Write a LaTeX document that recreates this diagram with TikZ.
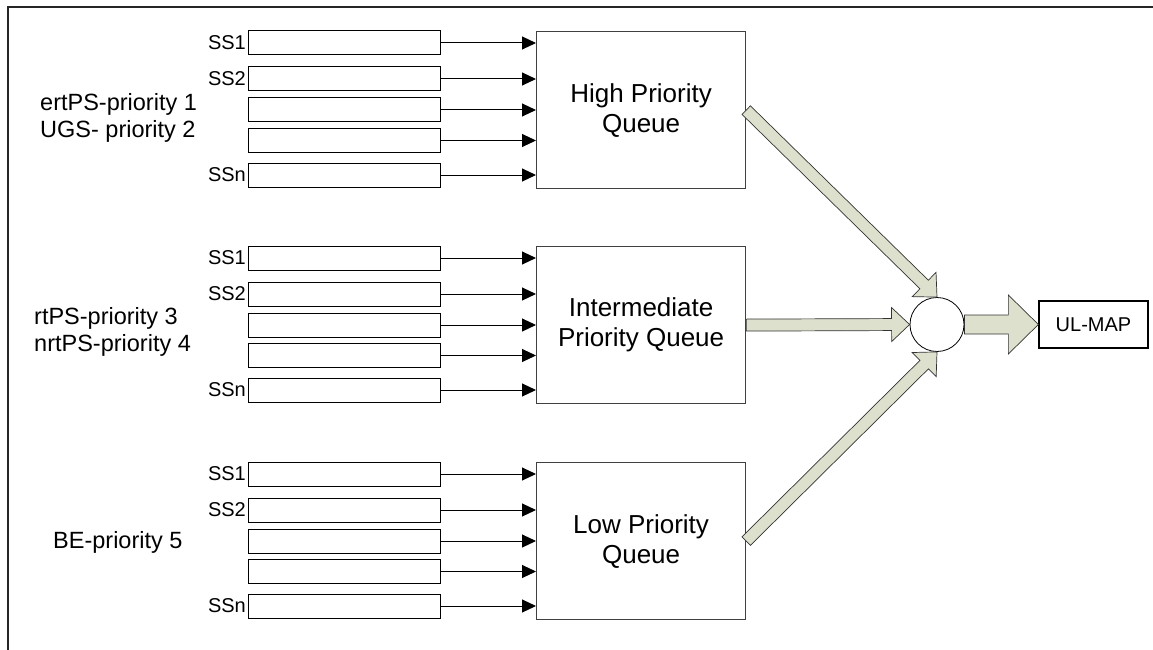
\documentclass[tikz,border=0pt]{standalone}
\usepackage{fontspec}
\setmainfont{Liberation Sans}
\usetikzlibrary{arrows.meta,calc}
\definecolor{arrowfill}{RGB}{221,224,204}
\newcommand*\rowheight{24pt}
\tikzset{
  ssbox/.style={draw, line width=1pt, rectangle, anchor=west,
    minimum width=192pt, minimum height=\rowheight, inner sep=0pt},
  ssname/.style={font=\fontsize{20}{24}\selectfont, inner sep=2pt},
  queue/.style={draw=black!75, line width=1.2pt, rectangle, anchor=north west,
    minimum width=209pt, minimum height=157pt, align=center,
    font=\fontsize{26}{30}\selectfont},
  feed/.style={line width=1pt, -{Triangle[length=14pt,width=13pt]}},
  classes/.style={anchor=west, align=left, inner sep=0pt,
    font=\fontsize{23.5}{27}\selectfont},
  fatarrow/.style={draw=black!80, fill=arrowfill, line width=0.7pt, line join=miter}
}
% #1 from, #2 to, #3 half shaft, #4 half head, #5 head length
\newcommand*\blockarrow[5]{%
  \draw[fatarrow] let \p1=(#1), \p2=(#2),
      \n1={atan2(\y2-\y1,\x2-\x1)}, \n2={veclen(\x2-\x1,\y2-\y1)} in
    [shift={(\p1)}, rotate=\n1]
    (0pt,-#3) -- (\n2-#5,-#3) -- (\n2-#5,-#4) -- (\n2,0pt)
    -- (\n2-#5,#4) -- (\n2-#5,#3) -- (0pt,#3) -- cycle;
}
\begin{document}
\begin{tikzpicture}[x=1pt,y=-1pt]
  \useasboundingbox (0,0) rectangle (1153,650);
  \draw[line width=1.5pt, black!85] (8,650) -- (8,7) -- (1153,7);

  % Three queues, each fed by five subscriber stations.
  \foreach \grp/\top/\qtext in {hi/31/{High Priority\\Queue},
      mid/246/{Intermediate\\Priority Queue}, lo/462/{Low Priority\\Queue}}{
    \node[queue] (\grp) at (536,\top) {\qtext};
    \foreach \i/\dy/\ss in {1/12/SS1, 2/48/SS2, 3/79/, 4/109.5/, 5/144/SSn}{
      \node[ssbox, label={[ssname]left:\ss}] (\grp\i) at (248,\top+\dy) {};
      \draw[feed] (\grp\i.east) -- (\grp\i.east -| \grp.west);
    }
  }

  % Service classes.
  \node[classes] (hicls) at (40,118) {ertPS-priority 1\\UGS- priority 2};
  \node[classes] (midcls) at (34,332) {rtPS-priority 3\\nrtPS-priority 4};
  \node[classes] (locls) at (53,542) {BE-priority 5};

  % Merge into the UL-MAP.
  \node[draw, circle, minimum size=54pt, inner sep=0pt, line width=0.8pt] (mix) at (937,324.5) {};
  \node[draw, line width=1.3pt, minimum width=109pt, minimum height=47pt,
    font=\fontsize{20}{24}\selectfont] (ulmap) at (1093.5,324.5) {UL-MAP};
  \blockarrow{hi.east}{mix.north}{6pt}{17pt}{18pt}
  \blockarrow{mid.east}{mix.west}{6pt}{17pt}{18pt}
  \blockarrow{lo.east}{mix.south}{6pt}{17pt}{18pt}
  \blockarrow{mix.east}{ulmap.west}{9.5pt}{29.5pt}{30pt}
\end{tikzpicture}
\end{document}
